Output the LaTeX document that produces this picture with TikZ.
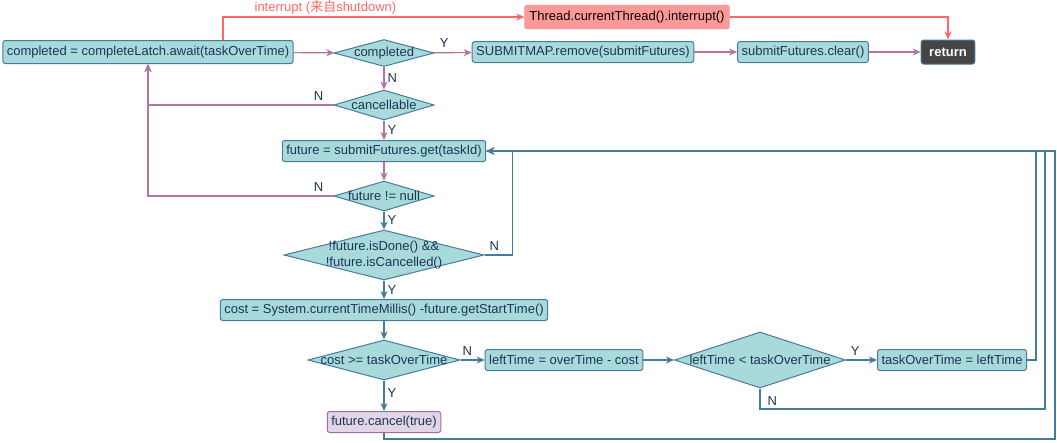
\documentclass[tikz,border=0pt]{standalone}
\usepackage{fontspec}
\setmainfont{Liberation Sans}
\newfontfamily\cjk{Noto Sans CJK SC}
\usepackage{tikz}
\usetikzlibrary{shapes.geometric, arrows.meta, positioning}
\definecolor{tealfill}{HTML}{A8DADC}
\definecolor{tealline}{HTML}{457B9D}
\definecolor{navytext}{HTML}{1D3557}
\definecolor{pinkline}{HTML}{B5739D}
\definecolor{redline}{HTML}{FF6666}
\definecolor{redfill}{HTML}{FF9999}
\definecolor{lilacfill}{HTML}{E1D5E7}
\definecolor{lilacline}{HTML}{9673A6}
\newcommand{\ctr}[1]{\makebox[0pt]{#1}}

\begin{document}
\begin{tikzpicture}
  [
    x=1pt, y=-1pt,
    font=\fontsize{13}{16}\selectfont,
    Proc/.style={rectangle, rounded corners=2.5pt, draw=tealline, fill=tealfill, text=navytext, line width=1pt, minimum height=21pt, inner xsep=4pt, inner ysep=0pt},
    Cond/.style={diamond, draw=tealline, fill=tealfill, text=navytext, line width=1pt, inner sep=0pt},
    Stop/.style={rectangle, rounded corners=2.5pt, draw=tealline, fill=black!73, text=white, line width=1pt, minimum height=24pt, inner xsep=8pt, font=\fontsize{13}{16}\selectfont\bfseries},
    Alarm/.style={rectangle, rounded corners=2.5pt, draw=redfill, fill=redfill, text=black, minimum height=24pt, inner xsep=5pt},
    Cancel/.style={Proc, draw=lilacline, fill=lilacfill},
    Lbl/.style={text=navytext, inner sep=1pt},
    Pink/.style={draw=pinkline, line width=1.2pt, -{Stealth[length=8pt, width=7pt, inset=2.5pt]}},
    Blue/.style={draw=tealline, line width=1.2pt, -{Stealth[length=8pt, width=7pt, inset=2.5pt]}},
    RedLine/.style={draw=redline, line width=1.2pt, -{Stealth[length=8pt, width=7pt, inset=2.5pt]}}
  ]
  \useasboundingbox (0,0) rectangle (1057,442);
  % Nodes
  \node[Proc, minimum height=23pt] (await) at (148, 52) {completed = completeLatch.await(taskOverTime)};
  \node[Cond, minimum width=100pt, minimum height=27pt] (completed) at (384, 53) {\ctr{completed}};
  \node[Proc] (submit) at (583, 52) {SUBMITMAP.remove(submitFutures)};
  \node[Proc] (clear) at (803, 52) {submitFutures.clear()};
  \node[Stop] (return) at (948, 52) {return};
  \node[Alarm] (thread) at (627, 17) {Thread.currentThread().interrupt()};
  \node[Cond, minimum width=100pt, minimum height=30pt] (cancellable) at (384, 105) {\ctr{cancellable}};
  \node[Proc] (future) at (384, 151) {future = submitFutures.get(taskId)};
  \node[Cond, minimum width=100pt, minimum height=30pt] (notnull) at (384, 196) {\ctr{future != null}};
  \node[Cond, minimum width=200pt, minimum height=50pt] (isdone) at (384, 255)
    {\ctr{\begin{tabular}{@{}c@{}}!future.isDone() \&\&\\!future.isCancelled()\end{tabular}}};
  \node[Proc] (cost) at (384, 310) {cost = System.currentTimeMillis() -future.getStartTime()};
  \node[Cond, minimum width=152pt, minimum height=40pt] (costcheck) at (384, 360) {\ctr{cost >= taskOverTime}};
  \node[Proc] (lefttime) at (564, 360) {leftTime = overTime - cost};
  \node[Cond, minimum width=171pt, minimum height=56pt] (leftcheck) at (760, 360) {\ctr{leftTime < taskOverTime}};
  \node[Proc] (overtime) at (952, 360) {taskOverTime = leftTime};
  \node[Cancel] (cancel) at (384, 422) {future.cancel(true)};
  \coordinate (ibend) at (223, 17);
  \coordinate (nbend) at (1045, 409);
  \coordinate (cbend) at (1055, 439);
  % Lines
  \path [RedLine] (await.north -| ibend) |- (thread.west)
    node[pos=0.67, above=1pt, text=redline, inner sep=1pt] (ilabel) {interrupt ({\cjk 来自}shutdown)};
  \path [RedLine] (thread.east) -| (return.north);
  \path [Pink] (await) -- (completed);
  \path [Pink] (completed) -- node[Lbl, pos=0.28, above=4pt] (y1) {Y} (submit);
  \path [Pink] (submit) -- (clear);
  \path [Pink] (clear) -- (return);
  \path [Pink] (completed) -- node[Lbl, right=2pt] (n1) {N} (cancellable);
  \path [Pink] (cancellable.west) -| node[Lbl, pos=0.04, above=3pt] (n2) {N} (await.south);
  \path [Pink] (cancellable) -- node[Lbl, right=2pt] (y2) {Y} (future);
  \path [Pink] (future) -- (notnull);
  \path [Pink] (notnull.west) -| node[Lbl, pos=0.04, above=3pt] (n3) {N} (await.south);
  \path [Blue] (notnull) -- node[Lbl, right=2pt] (y3) {Y} (isdone);
  \path [Blue] (isdone.east) -- node[Lbl, pos=0.35, above=3pt] (n4) {N} ++(28,0) |- (future.east);
  \path [Blue] (isdone) -- node[Lbl, right=2pt] (y4) {Y} (cost);
  \path [Blue] (cost) -- (costcheck);
  \path [Blue] (costcheck) -- node[Lbl, pos=0.28, above=3pt] (n5) {N} (lefttime);
  \path [Blue] (costcheck) -- node[Lbl, pos=0.4, right=2pt] (y5) {Y} (cancel);
  \path [Blue] (lefttime) -- (leftcheck);
  \path [Blue] (leftcheck) -- node[Lbl, pos=0.3, above=3pt] (y6) {Y} (overtime);
  \path [Blue] (overtime.east) -- ++(9,0) |- (future.east);
  \path [Blue] (leftcheck.south) |- node[Lbl, pos=0.3, right=6pt] (n6) {N} (nbend) |- (future.east);
  \path [Blue] (cancel.south) |- (cbend) |- (future.east);
\end{tikzpicture}
\end{document}
